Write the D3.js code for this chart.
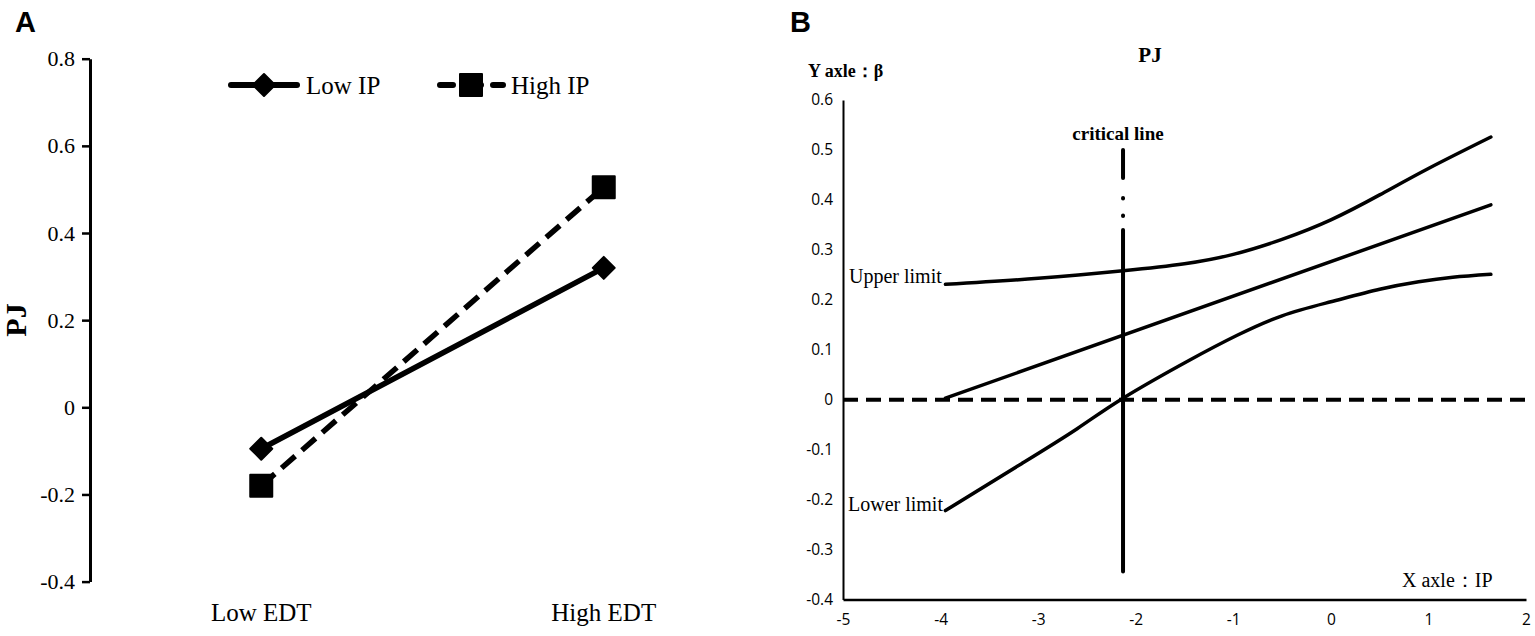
<!DOCTYPE html>
<html>
<head>
<meta charset="utf-8">
<script src="https://cdn.jsdelivr.net/npm/d3@7"></script>
<style>
  body { margin: 0; background: #fff; }
  svg { display: block; }
</style>
</head>
<body>
<div id="chart"></div>
<script>
// ---- panel A data ----
var edtLevels = ["Low EDT", "High EDT"];
var lowIP = [-0.095, 0.32];
var highIP = [-0.18, 0.505];
var pjTicks = [-0.4, -0.2, 0, 0.2, 0.4, 0.6, 0.8];

// ---- panel B data (x = IP, y = beta) ----
var ipTicks = [-5, -4, -3, -2, -1, 0, 1, 2];
var betaTicks = [-0.4, -0.3, -0.2, -0.1, 0, 0.1, 0.2, 0.3, 0.4, 0.5, 0.6];
var upperLimit = [[-3.95, 0.231], [-3.0, 0.243], [-2.13, 0.258], [-1.5, 0.272], [-1.0, 0.291],
                  [-0.5, 0.321], [0.0, 0.36], [0.5, 0.41], [1.0, 0.463], [1.64, 0.526]];
var slopeLine = [[-3.95, 0.003], [1.64, 0.39]];
var lowerLimit = [[-3.95, -0.222], [-3.17, -0.128], [-2.6, -0.058], [-2.13, 0.003], [-1.45, 0.079],
                  [-0.96, 0.129], [-0.5, 0.168], [0.0, 0.196], [0.5, 0.221], [0.9, 0.236],
                  [1.25, 0.245], [1.64, 0.251]];
var criticalX = -2.13;
var criticalRange = [-0.344, 0.5];

var SERIF = '"Liberation Serif", "Times New Roman", serif';
var SANS = '"Open Sans", "Liberation Sans", sans-serif';
var ARIAL = '"Liberation Sans", Arial, sans-serif';

var W = 1535, H = 636;
var svg = d3.select("#chart").append("svg")
    .attr("width", W)
    .attr("height", H);

var fmt = function(d) { return String(+d.toFixed(1)); };

function label(g, x, y, txt, family, size, bold, anchor) {
    return g.append("text")
        .attr("x", x).attr("y", y)
        .attr("text-anchor", anchor || "start")
        .style("font-family", family)
        .style("font-size", size + "px")
        .style("font-weight", bold ? "bold" : "normal")
        .attr("fill", "#000")
        .text(txt);
}

// ================= panel A =================
var a = svg.append("g");
label(a, 15, 32, "A", ARIAL, 29, true);

var xA = d3.scalePoint().domain(edtLevels).range([90, 775]).padding(0.5);
var yA = d3.scaleLinear().domain([-0.4, 0.8]).range([581.6, 58.7]);

var yAxisA = a.append("g")
    .attr("transform", "translate(90,0)")
    .call(d3.axisLeft(yA).tickValues(pjTicks).tickFormat(fmt).tickSize(8).tickSizeOuter(0).tickPadding(7));
yAxisA.attr("font-family", null).attr("font-size", null);
yAxisA.select(".domain").attr("stroke", "#000").attr("stroke-width", 3);
yAxisA.selectAll(".tick line").attr("stroke", "#000").attr("stroke-width", 2.5);
yAxisA.selectAll(".tick text")
    .style("font-family", SERIF)
    .style("font-size", "22px")
    .attr("fill", "#000");

a.append("text")
    .attr("transform", "translate(26,320) rotate(-90)")
    .attr("text-anchor", "middle")
    .style("font-family", SERIF)
    .style("font-size", "30px").style("font-weight", "bold")
    .text("PJ");

a.selectAll(".cat").data(edtLevels).enter().append("text")
    .attr("class", "cat")
    .attr("x", function(d) { return xA(d); })
    .attr("y", 621)
    .attr("text-anchor", "middle")
    .style("font-family", SERIF)
    .style("font-size", "25px")
    .text(function(d) { return d; });

var lineA = d3.line()
    .x(function(d, i) { return xA(edtLevels[i]); })
    .y(function(d) { return yA(d); });

a.append("path").datum(highIP)
    .attr("d", lineA)
    .attr("fill", "none").attr("stroke", "#000")
    .attr("stroke-width", 5.5).attr("stroke-dasharray", "18,9");
a.append("path").datum(lowIP)
    .attr("d", lineA)
    .attr("fill", "none").attr("stroke", "#000")
    .attr("stroke-width", 5.5).attr("stroke-linecap", "round");

var diamond = "M0,-11L11,0L0,11L-11,0Z";
var square = "M-11,-11H11V11H-11Z";

a.selectAll(".dia").data(lowIP).enter().append("path")
    .attr("class", "dia")
    .attr("d", diamond)
    .attr("transform", function(d, i) { return "translate(" + xA(edtLevels[i]) + "," + yA(d) + ")"; })
    .attr("fill", "#000").attr("stroke", "#000").attr("stroke-width", 2).attr("stroke-linejoin", "round");
a.selectAll(".sq").data(highIP).enter().append("path")
    .attr("class", "sq")
    .attr("d", square)
    .attr("transform", function(d, i) { return "translate(" + xA(edtLevels[i]) + "," + yA(d) + ")"; })
    .attr("fill", "#000").attr("stroke", "#000").attr("stroke-width", 2).attr("stroke-linejoin", "round");

// legend
var leg = a.append("g").attr("transform", "translate(0,85)");
leg.append("line").attr("x1", 231).attr("x2", 297).attr("y1", 0).attr("y2", 0)
    .attr("stroke", "#000").attr("stroke-width", 6).attr("stroke-linecap", "round");
leg.append("path").attr("d", diamond).attr("transform", "translate(264,0)")
    .attr("fill", "#000").attr("stroke", "#000").attr("stroke-width", 2).attr("stroke-linejoin", "round");
label(leg, 306, 9, "Low IP", SERIF, 25, false);

leg.append("line").attr("x1", 440).attr("x2", 503).attr("y1", 0).attr("y2", 0)
    .attr("stroke", "#000").attr("stroke-width", 6).attr("stroke-linecap", "round")
    .attr("stroke-dasharray", "13,12,0,12,4,12");
leg.append("path").attr("d", square).attr("transform", "translate(471,0)")
    .attr("fill", "#000").attr("stroke", "#000").attr("stroke-width", 2).attr("stroke-linejoin", "round");
label(leg, 511, 9, "High IP", SERIF, 25, false);

// ================= panel B =================
var b = svg.append("g");
label(b, 790, 32, "B", ARIAL, 29, true);

var xB = d3.scaleLinear().domain([-5, 2]).range([843, 1526]);
var yB = d3.scaleLinear().domain([-0.4, 0.6]).range([599.5, 100]);

var yAxisB = b.append("g")
    .attr("transform", "translate(843,0)")
    .call(d3.axisLeft(yB).tickValues(betaTicks).tickFormat(fmt).tickSize(0).tickPadding(10));
yAxisB.attr("font-family", null).attr("font-size", null);
yAxisB.select(".domain").attr("stroke", "#000").attr("stroke-width", 2);
yAxisB.selectAll(".tick text")
    .style("font-family", SANS)
    .style("font-size", "15.5px")
    .attr("fill", "#000");

var xAxisB = b.append("g")
    .attr("transform", "translate(0," + yB(-0.4) + ")")
    .call(d3.axisBottom(xB).tickValues(ipTicks).tickFormat(fmt).tickSize(0).tickPadding(14));
xAxisB.attr("font-family", null).attr("font-size", null);
xAxisB.select(".domain").attr("stroke", "#000").attr("stroke-width", 2.5);
xAxisB.selectAll(".tick text")
    .style("font-family", SANS)
    .style("font-size", "15.5px")
    .attr("fill", "#000");

label(b, 1150, 62, "PJ", SERIF, 21, true, "middle");
label(b, 808, 77, "Y axle：β", SERIF, 18, true);
label(b, 1402, 587, "X axle：IP", SERIF, 20, false);
label(b, 1118, 140, "critical line", SERIF, 19, true, "middle");
label(b, 849, 283, "Upper limit", SERIF, 20, false);
label(b, 848, 511, "Lower limit", SERIF, 20, false);

// zero reference line
b.append("line")
    .attr("x1", xB(-5)).attr("x2", xB(2))
    .attr("y1", yB(0)).attr("y2", yB(0))
    .attr("stroke", "#000").attr("stroke-width", 4)
    .attr("stroke-dasharray", "15,8");

var lineB = d3.line()
    .x(function(d) { return xB(d[0]); })
    .y(function(d) { return yB(d[1]); })
    .curve(d3.curveNatural);

[upperLimit, slopeLine, lowerLimit].forEach(function(s) {
    b.append("path").datum(s)
        .attr("d", lineB)
        .attr("fill", "none").attr("stroke", "#000")
        .attr("stroke-width", 3.5).attr("stroke-linecap", "round");
});

// critical line (dash, two dots, then solid)
b.append("line")
    .attr("x1", xB(criticalX)).attr("x2", xB(criticalX))
    .attr("y1", yB(criticalRange[1])).attr("y2", yB(criticalRange[0]))
    .attr("stroke", "#000").attr("stroke-width", 4).attr("stroke-linecap", "round")
    .attr("stroke-dasharray", "28,20,0.5,17,0.5,14,1000");
</script>
</body>
</html>
